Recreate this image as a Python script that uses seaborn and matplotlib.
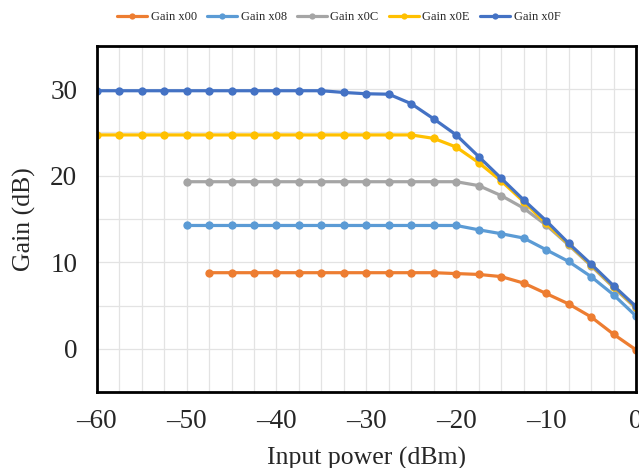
import numpy as np
import pandas as pd
import matplotlib
matplotlib.use('Agg')
import matplotlib.pyplot as plt
from matplotlib.ticker import MultipleLocator, FuncFormatter
import seaborn as sns

# input power steps (dBm)
x_all = [-60, -57.5, -55, -52.5, -50, -47.5, -45, -42.5, -40, -37.5, -35, -32.5,
         -30, -27.5, -25, -22.5, -20, -17.5, -15, -12.5, -10, -7.5, -5, -2.5, 0]

gain_x00 = [8.8, 8.8, 8.8, 8.8, 8.8, 8.8, 8.8, 8.8, 8.8, 8.8, 8.8,
            8.7, 8.6, 8.35, 7.6, 6.4, 5.2, 3.7, 1.7, -0.1]
gain_x08 = [14.25, 14.25, 14.25, 14.25, 14.25, 14.25, 14.25, 14.25, 14.25, 14.25, 14.25,
            14.25, 14.25, 13.75, 13.3, 12.8, 11.45, 10.1, 8.35, 6.25, 3.8]
gain_x0C = [19.3, 19.3, 19.3, 19.3, 19.3, 19.3, 19.3, 19.3, 19.3, 19.3, 19.3,
            19.3, 19.3, 18.85, 17.7, 16.25, 14.3, 12.0, 9.6, 7.1, 4.7]
gain_x0E = [24.7] * 15 + [24.3, 23.3, 21.5, 19.4, 17.0, 14.5, 12.1, 9.7, 7.2, 4.8]
gain_x0F = [29.8] * 11 + [29.6, 29.45, 29.4, 28.3, 26.55, 24.7, 22.2, 19.7,
                          17.2, 14.8, 12.2, 9.8, 7.3, 4.9]

labels = ['Gain x00', 'Gain x08', 'Gain x0C', 'Gain x0E', 'Gain x0F']
colors = ['#ED7D31', '#5B9BD5', '#A5A5A5', '#FFC000', '#4472C4']
series = [gain_x00, gain_x08, gain_x0C, gain_x0E, gain_x0F]

rows = []
for lab, vals in zip(labels, series):
    xs = x_all[len(x_all) - len(vals):]
    for xv, yv in zip(xs, vals):
        rows.append({'power': xv, 'gain': yv, 'setting': lab})
df = pd.DataFrame(rows)

sns.set_style('white')
plt.rcParams['font.family'] = ['Liberation Serif', 'DejaVu Serif']

fig = plt.figure(figsize=(6.39, 4.68), dpi=100)
ax = fig.add_axes([0.1513, 0.1618, 0.8440, 0.7406])

sns.lineplot(data=df, x='power', y='gain', hue='setting', hue_order=labels,
             palette=colors, marker='o', markersize=6, markeredgewidth=0,
             linewidth=2.3, ax=ax, legend=False)

ax.set_xlim(-60, 0)
ax.set_ylim(-5, 35)
ax.xaxis.set_major_locator(MultipleLocator(10))
ax.xaxis.set_minor_locator(MultipleLocator(2.5))
ax.yaxis.set_major_locator(MultipleLocator(10))
ax.yaxis.set_minor_locator(MultipleLocator(5))
ax.set_yticks([0, 10, 20, 30])
ax.xaxis.set_major_formatter(FuncFormatter(lambda v, p: f'{v:.0f}'.replace('-', '\u2013')))
ax.grid(True, which='both', color='#e3e3e3', linewidth=0.9)
ax.set_axisbelow(True)
ax.tick_params(axis='both', which='both', length=0, labelsize=19.5)
ax.tick_params(axis='x', pad=12)
ax.tick_params(axis='y', pad=14)
for sp in ax.spines.values():
    sp.set_color('black')
    sp.set_linewidth(2)

ax.set_xlabel('Input power (dBm)', fontsize=18.5, labelpad=9)
ax.set_ylabel('Gain (dB)', fontsize=18.5, labelpad=10)

handles = [plt.Line2D([], [], color=c, marker='o', markersize=4.5, linewidth=2.3,
                      markeredgewidth=0) for c in colors]
fig.legend(handles, labels, loc='center', bbox_to_anchor=(0.53, 0.963), ncol=5,
           frameon=False, fontsize=9, handlelength=2.4, handletextpad=0.3,
           columnspacing=0.8)

fig.savefig('out.png', dpi=100)
